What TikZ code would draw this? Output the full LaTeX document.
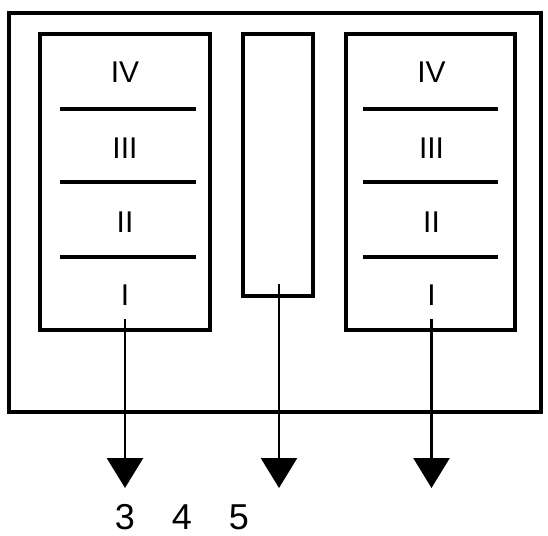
\documentclass[tikz,border=0pt]{standalone}
\usepackage{fontspec}
\setmainfont{Liberation Sans}
\usetikzlibrary{arrows.meta,positioning}
\tikzset{
	frame/.style={draw, line width=3.2pt, inner sep=0pt},
	sep/.style={line width=3.2pt},
	flow/.style={line width=2.8pt, -{Triangle[width=36pt,length=30pt]}},
	zone/.style={inner sep=0pt, font=\fontsize{30}{30}\selectfont},
	outlet/.style={inner sep=0pt, font=\fontsize{36}{36}\selectfont}
}
\begin{document}
\begin{tikzpicture}[x=1pt,y=-1pt]
				\useasboundingbox (0,0) rectangle (548,535);
				\node[frame, minimum width=532pt, minimum height=399pt] (outer) at (275,212.5) {};
				\node[frame, minimum width=170pt, minimum height=296pt] (lbox) at (125,182) {};
				\node[frame, minimum width=70pt, minimum height=262pt] (mbox) at (278,165) {};
				\node[frame, minimum width=169pt, minimum height=296pt] (rbox) at (430.5,182) {};
				\foreach \y/\t/\n in {72.5/IV/4, 148/III/3, 222/II/2, 295.5/I/1} {
					\node[zone] (l\n) at (125,\y) {\t};
					\node[zone] (r\n) at (431.5,\y) {\t};
				}
				\foreach \y in {109, 182, 257} {
					\draw[sep] (60,\y) -- (196,\y);
					\draw[sep] (363,\y) -- (498,\y);
				}
				\coordinate (lout) at (125,488);
				\coordinate (mout) at (279,488);
				\coordinate (rout) at (431.5,488);
				\coordinate (mstart) at (279,284);
				\draw[flow] ([yshift=-13pt]l1.south) -- (lout);
				\draw[flow] (mstart) -- (mout);
				\draw[flow] ([yshift=-13pt]r1.south) -- (rout);
				\node[outlet] (o3) at (125,517) {3};
				\node[outlet] (o4) at (182,517) {4};
				\node[outlet] (o5) at (239,517) {5};
			\end{tikzpicture}
\end{document}
